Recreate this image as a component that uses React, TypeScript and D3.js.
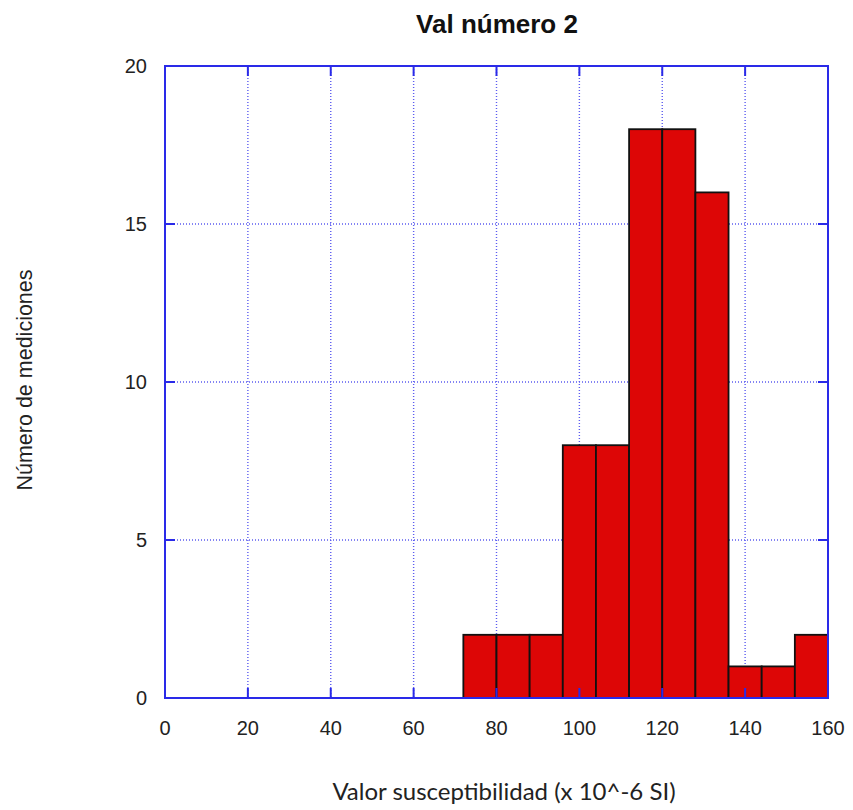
import React from "react";
import * as d3 from "d3";

const binStarts = [72, 80, 88, 96, 104, 112, 120, 128, 136, 144, 152];
const binWidth = 8;
const counts = [2, 2, 2, 8, 8, 18, 18, 16, 1, 1, 2];
const xTicks = [0, 20, 40, 60, 80, 100, 120, 140, 160];
const yTicks = [0, 5, 10, 15, 20];
const title = "Val número 2";
const xLabel = "Valor susceptibilidad (x 10^-6 SI)";
const yLabel = "Número de mediciones";

export default function App() {
  const W = 853, H = 810;
  const left = 165, right = 828, top = 66, bottom = 698;
  const x = d3.scaleLinear().domain([0, 160]).range([left, right]);
  const y = d3.scaleLinear().domain([0, 20]).range([bottom, top]);
  const axisColor = "#2a2ae8";
  const gridColor = "#5c5cf0";
  const tickLen = 10;
  const bars = binStarts.map((s, i) => ({ x0: s, x1: s + binWidth, v: counts[i] }));
  return (
    <svg width={W} height={H} style={{ position: "absolute", left: 0, top: 0, background: "#fff" }}
      fontFamily="'Liberation Sans', Arial, sans-serif">
      <rect x={0} y={0} width={W} height={H} fill="#fff" />
      {xTicks.filter(t => t > 0 && t < 160).map(t => (
        <line key={"gx" + t} x1={x(t)} x2={x(t)} y1={top} y2={bottom} stroke={gridColor}
          strokeWidth={1.4} strokeDasharray="1,2" />
      ))}
      {yTicks.filter(t => t > 0 && t < 20).map(t => (
        <line key={"gy" + t} x1={left} x2={right} y1={y(t)} y2={y(t)} stroke={gridColor}
          strokeWidth={1.4} strokeDasharray="1,2" />
      ))}
      {bars.map((b, i) => (
        <rect key={"b" + i} x={x(b.x0)} y={y(b.v)} width={x(b.x1) - x(b.x0)} height={y(0) - y(b.v)}
          fill="#dd0606" stroke="#111" strokeWidth={1.8} />
      ))}
      <rect x={left} y={top} width={right - left} height={bottom - top} fill="none" stroke={axisColor} strokeWidth={2} />
      {xTicks.map(t => (
        <g key={"tx" + t}>
          <line x1={x(t)} x2={x(t)} y1={bottom} y2={bottom - tickLen} stroke={axisColor} strokeWidth={2} />
          <line x1={x(t)} x2={x(t)} y1={top} y2={top + tickLen} stroke={axisColor} strokeWidth={2} />
          <text x={x(t)} y={728} textAnchor="middle" dominantBaseline="central" fontSize={20} fill="#222">{t}</text>
        </g>
      ))}
      {yTicks.map(t => (
        <g key={"ty" + t}>
          <line x1={left} x2={left + tickLen} y1={y(t)} y2={y(t)} stroke={axisColor} strokeWidth={2} />
          <line x1={right} x2={right - tickLen} y1={y(t)} y2={y(t)} stroke={axisColor} strokeWidth={2} />
          <text x={147} y={y(t)} textAnchor="end" dominantBaseline="central" fontSize={20} fill="#222">{t}</text>
        </g>
      ))}
      <text x={497} y={33} textAnchor="middle" fontSize={26} fontWeight="bold" fill="#111">{title}</text>
      <text x={504} y={800} textAnchor="middle" fontSize={24} fontFamily="Lato, 'Open Sans', sans-serif" fill="#222">{xLabel}</text>
      <text transform={`translate(32,380) rotate(-90)`} textAnchor="middle" fontSize={21.5} fill="#222">{yLabel}</text>
    </svg>
  );
}
